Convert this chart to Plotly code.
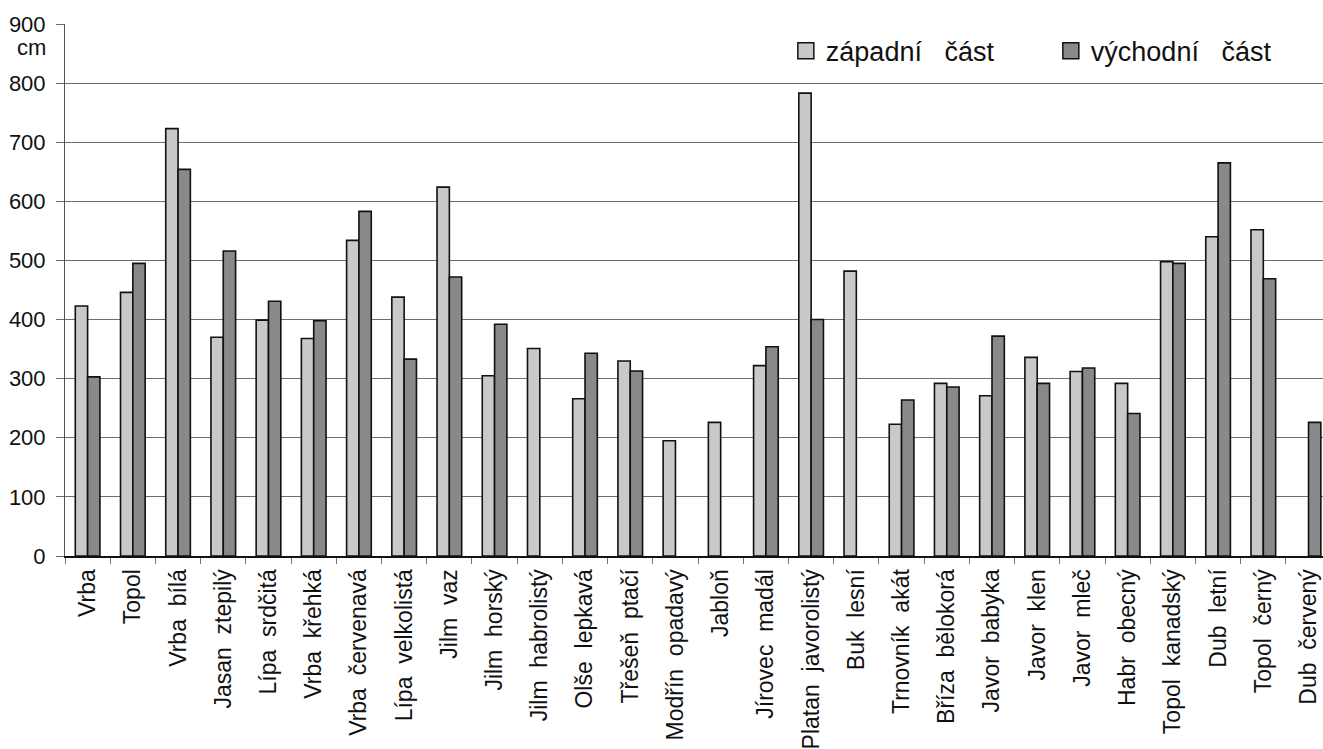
import plotly.graph_objects as go

categories = ["Vrba", "Topol", "Vrba bílá", "Jasan ztepilý", "Lípa srdčitá", "Vrba křehká",
              "Vrba červenavá", "Lípa velkolistá", "Jilm vaz", "Jilm horský", "Jilm habrolistý",
              "Olše lepkavá", "Třešeň ptačí", "Modřín opadavý", "Jabloň", "Jírovec madál",
              "Platan javorolistý", "Buk lesní", "Trnovník akát", "Bříza bělokorá", "Javor babyka",
              "Javor klen", "Javor mleč", "Habr obecný", "Topol kanadský", "Dub letní",
              "Topol černý", "Dub červený"]

zapadni = [423, 446, 723, 370, 399, 368, 534, 438, 624, 305, 351,
           266, 330, 195, 226, 322, 783, 482, 223, 292, 271,
           336, 312, 292, 498, 540, 552, None]

vychodni = [303, 495, 654, 516, 431, 398, 583, 333, 472, 392, None,
            343, 313, None, None, 354, 400, None, 264, 286, 372,
            292, 318, 241, 495, 665, 469, 226]

y_ticks = [0, 100, 200, 300, 400, 500, 600, 700, 800, 900]
series_names = ["západní\u00a0\u00a0 část", "východní\u00a0\u00a0 část"]
unit_label = "cm"

colors = ["#c8c9cb", "#88898b"]
outline = "#111111"

tick_text = [c.replace(" ", "\u00a0 ") for c in categories]

fig = go.Figure()
for vals, name, col in zip([zapadni, vychodni], series_names, colors):
    fig.add_trace(go.Bar(x=categories, y=vals, name=name, showlegend=False,
                         marker=dict(color=col, line=dict(color=outline, width=1.6))))
# legend entries (bigger square symbols, as in the original legend)
for name, col in zip(series_names, colors):
    fig.add_trace(go.Scatter(x=[None], y=[None], mode="markers", name=name,
                             marker=dict(symbol="square", size=20, color=col,
                                         line=dict(color=outline, width=1.5))))

fig.update_layout(
    width=1323, height=749,
    margin=dict(l=65, r=0, t=24, b=193),
    paper_bgcolor="white", plot_bgcolor="white",
    barmode="group", bargap=0.455, bargroupgap=0,
    font=dict(family="Liberation Sans, Arial, sans-serif", size=22, color="#111111"),
    legend=dict(orientation="h", x=0.573, y=0.949, xanchor="left", yanchor="middle",
                font=dict(size=27, color="#111111"), bgcolor="rgba(0,0,0,0)",
                itemwidth=30, itemsizing="trace", entrywidth=220, entrywidthmode="pixels"),
    showlegend=True,
)
fig.update_xaxes(
    type="category", range=[-0.5, 27.32],
    tickmode="array", tickvals=categories, ticktext=tick_text,
    tickangle=-90, ticks="outside", tickson="boundaries", ticklen=6,
    tickcolor="#777777", tickwidth=1,
    showline=True, linecolor="#111111", linewidth=2,
    showgrid=False, tickfont=dict(size=23), ticklabelstandoff=2,
)
fig.update_yaxes(
    range=[0, 900], tickvals=y_ticks, ticks="outside", ticklen=8,
    tickcolor="#6e6e6e", tickwidth=1,
    showgrid=True, gridcolor="#6e6e6e", gridwidth=1,
    showline=True, linecolor="#555555", linewidth=1,
    zeroline=False, tickfont=dict(size=22), ticklabelstandoff=6,
)
fig.add_annotation(text=unit_label, xref="paper", yref="y", x=0, y=860,
                   xanchor="right", yanchor="middle", xshift=-17, showarrow=False,
                   font=dict(size=22, color="#111111"))

fig.write_html("out.html", config={"displayModeBar": False},
               post_script="document.body.style.margin='0';document.body.style.overflow='hidden';")
